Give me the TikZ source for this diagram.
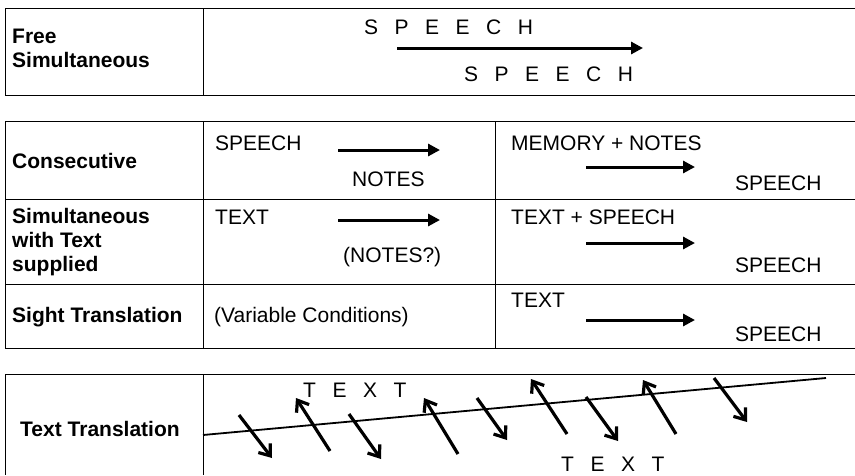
\documentclass[tikz,border=0pt]{standalone}
\usepackage{fontspec}
\setmainfont{Liberation Sans}
\usetikzlibrary{arrows.meta}
\newcommand{\widesp}{\spaceskip=16.5pt\relax}
\tikzset{
  rule/.style={line width=1pt, draw=black},
  txt/.style={inner sep=0pt, anchor=base west, font=\fontsize{21}{24}\selectfont},
  lbl/.style={inner sep=0pt, anchor=base west, font=\fontsize{21}{24}\selectfont\bfseries},
  wide/.style={inner sep=0pt, anchor=base west, font=\fontsize{21}{24}\selectfont, execute at begin node=\widesp},
  flow/.style={line width=3pt, -{Triangle[length=12pt,width=12pt]}},
  zig/.style={line width=3.2pt, -{Straight Barb[length=10pt,width=15pt]}},
}
\begin{document}
\begin{tikzpicture}[x=1pt,y=-1pt]
\useasboundingbox (0,0) rectangle (855,475);
% ---------- table 1 ----------
\draw[rule] (855,8) -- (5,8) -- (5,95) -- (855,95);
\draw[rule] (203,8) -- (203,95);
\node[lbl] (free1) at (12,43) {Free};
\node[lbl] (free2) at (12,67) {Simultaneous};
\node[wide] (sp1) at (364,34) {S P E E C H};
\node[wide] (sp2) at (464,81) {S P E E C H};
\coordinate (a1s) at (397,48);
\coordinate (a1e) at (643,48);
\draw[flow] (a1s) -- (a1e);
% ---------- table 2 ----------
\draw[rule] (855,121) -- (5,121) -- (5,348) -- (855,348);
\draw[rule] (5,199) -- (855,199);
\draw[rule] (5,284) -- (855,284);
\draw[rule] (203,121) -- (203,348);
\draw[rule] (495,121) -- (495,348);
% row 1
\node[lbl] (cons) at (12,168) {Consecutive};
\node[txt] (r1a) at (215,150) {SPEECH};
\node[txt] (r1b) at (352,186) {NOTES};
\coordinate (a2s) at (338,150);
\coordinate (a2e) at (440,150);
\draw[flow] (a2s) -- (a2e);
\node[txt] (r1c) at (511,150) {MEMORY + NOTES};
\node[txt] (r1d) at (735,190) {SPEECH};
\coordinate (a3s) at (586,167);
\coordinate (a3e) at (695,167);
\draw[flow] (a3s) -- (a3e);
% row 2
\node[lbl] (sim1) at (12,223) {Simultaneous};
\node[lbl] (sim2) at (12,247) {with Text};
\node[lbl] (sim3) at (12,271) {supplied};
\node[txt] (r2a) at (215,224) {TEXT};
\node[txt] (r2b) at (343,262) {(NOTES?)};
\coordinate (a4s) at (338,220);
\coordinate (a4e) at (440,220);
\draw[flow] (a4s) -- (a4e);
\node[txt] (r2c) at (511,224) {TEXT + SPEECH};
\node[txt] (r2d) at (735,272) {SPEECH};
\coordinate (a5s) at (586,243);
\coordinate (a5e) at (695,243);
\draw[flow] (a5s) -- (a5e);
% row 3
\node[lbl] (sight) at (12,322) {Sight Translation};
\node[txt] (r3a) at (214,322) {(Variable Conditions)};
\node[txt] (r3b) at (511,307) {TEXT};
\node[txt] (r3c) at (735,341) {SPEECH};
\coordinate (a6s) at (586,320);
\coordinate (a6e) at (695,320);
\draw[flow] (a6s) -- (a6e);
% ---------- table 3 ----------
\draw[rule] (855,374) -- (5,374) -- (5,475);
\draw[rule] (203,374) -- (203,475);
\node[lbl] (tt) at (20,436) {Text Translation};
\coordinate (ls) at (203,435);
\coordinate (le) at (826,378);
\draw[line width=1.8pt] (ls) -- (le);
\node[wide] (tx1) at (303,397) {T E X T};
\node[wide] (tx2) at (561,471) {T E X T};
% zigzag arrows (down / up alternating)
\coordinate (z1a) at (239,415); \coordinate (z1b) at (272,458);
\coordinate (z2a) at (330,451); \coordinate (z2b) at (296,398);
\coordinate (z3a) at (349,414); \coordinate (z3b) at (381,459);
\coordinate (z4a) at (458,454); \coordinate (z4b) at (424,398);
\coordinate (z5a) at (477,398); \coordinate (z5b) at (507,440);
\coordinate (z6a) at (567,434); \coordinate (z6b) at (531,379);
\coordinate (z7a) at (586,397); \coordinate (z7b) at (618,441);
\coordinate (z8a) at (676,434); \coordinate (z8b) at (643,380);
\coordinate (z9a) at (714,378); \coordinate (z9b) at (747,422);
\foreach \i in {1,...,9} {\draw[zig] (z\i a) -- (z\i b);}
\end{tikzpicture}
\end{document}
